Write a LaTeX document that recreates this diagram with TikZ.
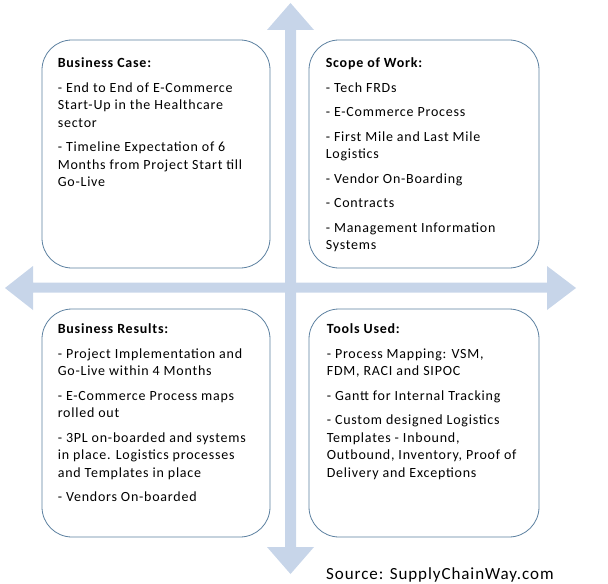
\documentclass[tikz,border=0pt]{standalone}
\usepackage{fontspec}
\setmainfont{Carlito}[LetterSpace=5.5]
\usetikzlibrary{positioning,calc}

\definecolor{crossblue}{RGB}{199,213,233}
\definecolor{boxline}{RGB}{92,128,160}

\tikzset{
  quad/.style={
    shape = rectangle,
    draw = boxline,
    line width = 0.8pt,
    rounded corners = 30bp,
    fill = white,
    minimum height = 228bp,
    inner sep = 0pt
  },
  quadtext/.style={
    anchor = north west,
    align = left,
    inner sep = 0pt,
    font = \fontsize{14bp}{17.5bp}\selectfont
  },
  crossarrow/.style={
    fill = crossblue,
    draw = none
  },
}

\begin{document}
\begin{tikzpicture}[x=1bp, y=-1bp]
\useasboundingbox (0,0) rectangle (608,584);
% the cross of arrows
\fill[crossarrow] (285,30) -- (267,30) -- (290.5,3) -- (314,30) -- (296,30) -- (296,547)
  -- (314,547) -- (290.5,574) -- (267,547) -- (285,547) -- cycle;
\fill[crossarrow] (33,282.5) -- (33,266) -- (5,288) -- (33,310) -- (33,292.5) -- (547,292.5)
  -- (547,310) -- (576,288) -- (547,266) -- (547,282.5) -- cycle;
% the four boxes
\node[quad, minimum width=228bp] (case)    at (156,154) {};
\node[quad, minimum width=230bp] (scope)   at (424,154) {};
\node[quad, minimum width=228bp] (results) at (156,423) {};
\node[quad, minimum width=230bp] (tools)   at (424,423) {};
\node[quadtext] (casetext) at ([xshift=16bp, yshift=-18bp]case.north west) {%
  \textbf{Business Case:}\\[7bp]
  - End to End of E-Commerce\\
  Start-Up in the Healthcare\\
  sector\\[7bp]
  - Timeline Expectation of 6\\
  Months from Project Start till\\
  Go-Live};
\node[quadtext] (scopetext) at ([xshift=17bp, yshift=-18bp]scope.north west) {%
  \textbf{Scope of Work:}\\[7bp]
  - Tech FRDs\\[7bp]
  - E-Commerce Process\\[7bp]
  - First Mile and Last Mile\\
  Logistics\\[7bp]
  - Vendor On-Boarding\\[7bp]
  - Contracts\\[7bp]
  - Management Information\\
  Systems};
\node[quadtext] (resultstext) at ([xshift=16bp, yshift=-15bp]results.north west) {%
  \textbf{Business Results:}\\[7bp]
  - Project Implementation and\\
  Go-Live within 4 Months\\[7bp]
  - E-Commerce Process maps\\
  rolled out\\[7bp]
  - 3PL on-boarded and systems\\
  in place. Logistics processes\\
  and Templates in place\\[7bp]
  - Vendors On-boarded};
\node[quadtext] (toolstext) at ([xshift=18bp, yshift=-15bp]tools.north west) {%
  \textbf{Tools Used:}\\[7bp]
  - Process Mapping: VSM,\\
  FDM, RACI and SIPOC\\[7bp]
  - Gantt for Internal Tracking\\[7bp]
  - Custom designed Logistics\\
  Templates - Inbound,\\
  Outbound, Inventory, Proof of\\
  Delivery and Exceptions};
\node[anchor=base west, inner sep=0pt, font=\fontsize{17bp}{20bp}\selectfont] (source) at (326,579) {Source: SupplyChainWay.com};
\end{tikzpicture}
\end{document}
